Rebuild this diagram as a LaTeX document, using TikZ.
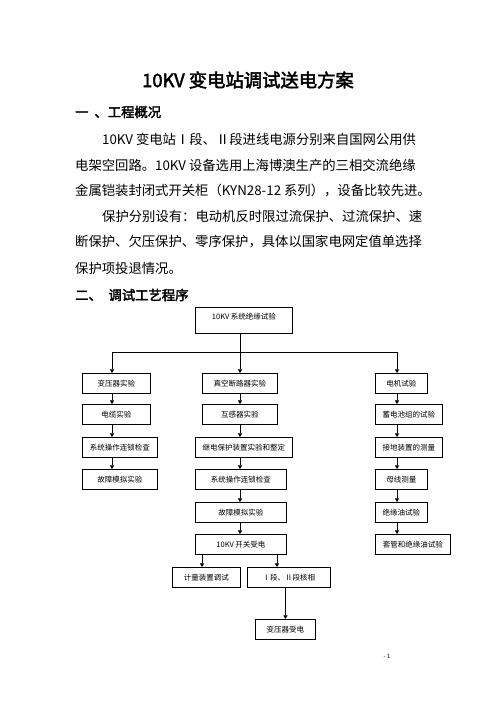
\documentclass[tikz,border=0pt]{standalone}
\usepackage{fontspec}
\setmainfont{Noto Sans CJK SC}[AutoFakeBold=2.5]
\usetikzlibrary{arrows.meta}

\tikzset{
box/.style={draw, line width=1.1pt, anchor=north west, inner sep=2pt,
  minimum height=19.5*1.2pt, font=\fontsize{9}{10}\selectfont},
bw/.style={minimum width=#1*1.2pt},
arr/.style={line width=1pt, -{Triangle[length=4.5pt,width=5pt]}},
body/.style={anchor=west, inner sep=0pt, font=\fontsize{16}{20}\selectfont},
head/.style={anchor=west, inner sep=0pt, font=\fontsize{16}{20}\selectfont\bfseries},
}

\begin{document}
\begin{tikzpicture}[x=1.2pt, y=-1.2pt]
\fill[white] (0,0) rectangle (496,702);
\useasboundingbox (0,0) rectangle (496,702);

\node[font=\fontsize{22}{26}\selectfont\bfseries] (title) at (248,80) {10KV 变电站调试送电方案};
\node[head] (h1) at (75,112) {一\hspace{0.45em}、工程概况};
\node[body] (p1) at (102,139) {10KV 变电站Ⅰ段、Ⅱ段进线电源分别来自国网公用供};
\node[body] (p2) at (75,165) {电架空回路。10KV 设备选用上海博澳生产的三相交流绝缘};
\node[body] (p3) at (75,191) {金属铠装封闭式开关柜（KYN28-12 系列），设备比较先进。};
\node[body] (p4) at (102,216) {保护分别设有：电动机反时限过流保护、过流保护、速};
\node[body] (p5) at (75,242) {断保护、欠压保护、零序保护，具体以国家电网定值单选择};
\node[body] (p6) at (75,268) {保护项投退情况。};
\node[head] (h2) at (75,295) {二、\hspace{0.5em}调试工艺程序};

\node[box, bw=97, minimum height=26*1.2pt, text depth=10pt] (top) at (195,307) {10KV 系统绝缘试验};

\node[box, bw=68] (L1) at (82,373) {变压器实验};
\node[box, bw=68] (L2) at (82,404) {电缆实验};
\node[box, bw=75] (L3) at (82,437) {系统操作连锁检查};
\node[box, bw=75] (L4) at (82,469) {故障模拟实验};

\node[box, bw=75] (M1) at (202,373) {真空断路器实验};
\node[box, bw=75] (M2) at (202,404) {互感器实验};
\node[box, bw=97] (M3) at (195,437) {继电保护装置实验和整定};
\node[box, bw=91] (M4) at (195,469) {系统操作连锁检查};
\node[box, bw=91] (M5) at (195,502) {故障模拟实验};
\node[box, bw=91] (M6) at (195,534) {10KV 开关受电};

\node[box, bw=68] (B1) at (172,567) {计量装置调试};
\node[box, bw=83] (B2) at (247,567) {Ⅰ段、Ⅱ段核相};
\node[box, bw=60] (B3) at (255,619) {变压器受电};

\node[box, bw=52] (R1) at (375,373) {电机试验};
\node[box, bw=67] (R2) at (375,404) {蓄电池组的试验};
\node[box, bw=67] (R3) at (375,437) {接地装置的测量};
\node[box, bw=52] (R4) at (375,469) {母线测量};
\node[box, bw=52] (R5) at (375,502) {绝缘油试验};
\node[box, bw=75] (R6) at (375,534) {套管和绝缘油试验};

\node[font=\fontsize{7}{8}\selectfont] (pgno) at (387,656) {- 1};

\coordinate (colL) at (112,0);
\coordinate (colM) at (240,0);
\coordinate (colR) at (397,0);
\coordinate (colA) at (202,0);
\coordinate (colB) at (277,0);
\coordinate (bus) at (0,352);

\draw[line width=1pt] (top.south -| colM) -- (bus -| colM);
\draw[line width=1pt] (bus -| colL) -- (bus -| colR);
\foreach \c/\n in {colL/L1, colM/M1, colR/R1}
  \draw[arr] (bus -| \c) -- (\n.north -| \c);
\foreach \a/\b in {L1/L2, L2/L3, L3/L4}
  \draw[arr] (\a.south -| colL) -- (\b.north -| colL);
\foreach \a/\b in {M1/M2, M2/M3, M3/M4, M4/M5, M5/M6}
  \draw[arr] (\a.south -| colM) -- (\b.north -| colM);
\foreach \a/\b in {R1/R2, R2/R3, R3/R4, R4/R5, R5/R6}
  \draw[arr] (\a.south -| colR) -- (\b.north -| colR);
\draw[arr] (M6.south -| colA) -- (B1.north -| colA);
\draw[arr] (M6.south -| colB) -- (B2.north -| colB);
\draw[arr] (B2.south -| B3.north) -- (B3.north);

\end{tikzpicture}
\end{document}
